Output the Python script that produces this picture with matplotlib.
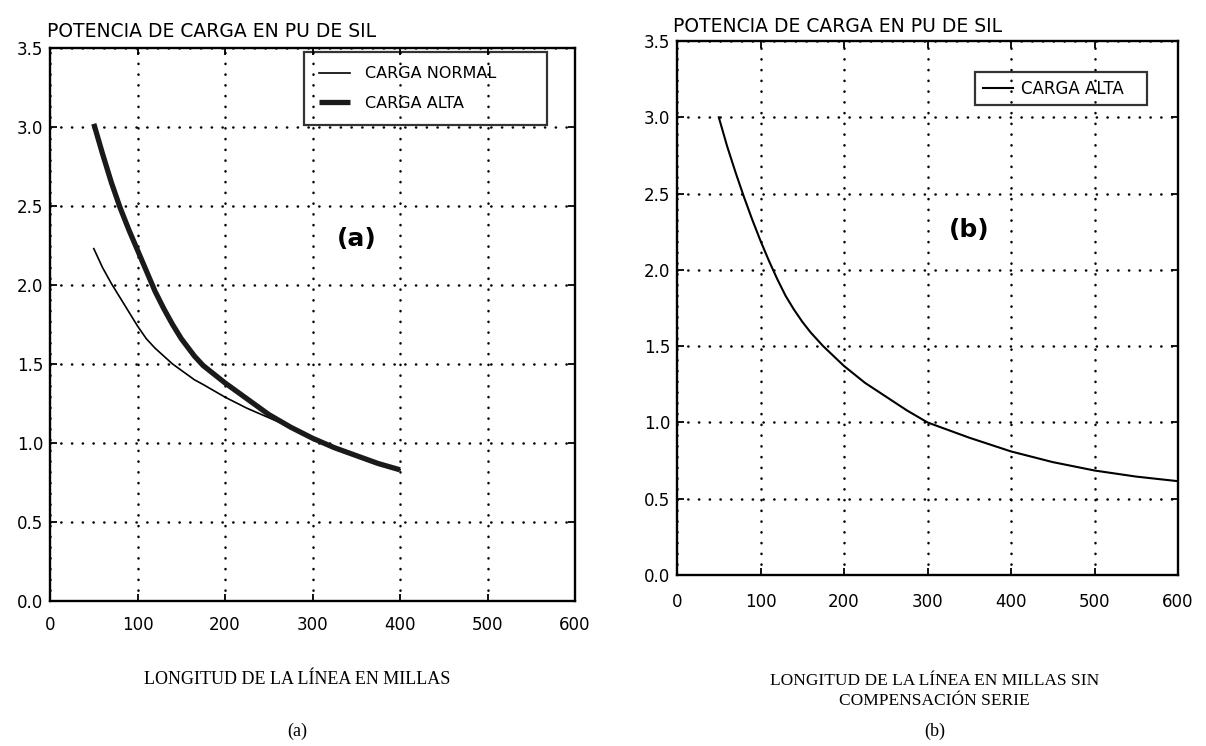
import numpy as np
import matplotlib.pyplot as plt

# Potencia de carga (pu de SIL) frente a longitud de la linea (millas)
millas_a = [50, 60, 70, 80, 90, 100, 110, 120, 130, 140, 150, 165, 175, 200,
            225, 250, 275, 300, 325, 350, 375, 400]
carga_alta_a = [3.02, 2.83, 2.65, 2.49, 2.35, 2.22, 2.09, 1.96, 1.85, 1.75, 1.66,
                1.55, 1.49, 1.38, 1.28, 1.18, 1.10, 1.03, 0.97, 0.92, 0.87, 0.83]
carga_normal_a = [2.23, 2.11, 2.01, 1.92, 1.83, 1.74, 1.66, 1.60, 1.55, 1.50, 1.46,
                  1.40, 1.37, 1.29, 1.22, 1.16, 1.10, 1.03, 0.97, 0.92, 0.87, 0.83]

millas_b = [50, 60, 70, 80, 90, 100, 110, 120, 130, 140, 150, 160, 175, 200,
            225, 250, 275, 300, 350, 400, 450, 500, 550, 600]
carga_alta_b = [3.00, 2.81, 2.64, 2.48, 2.33, 2.19, 2.06, 1.94, 1.83, 1.74, 1.66,
                1.59, 1.50, 1.37, 1.26, 1.17, 1.08, 1.00, 0.90, 0.81, 0.74, 0.685,
                0.645, 0.615]

ticks_x = [0, 100, 200, 300, 400, 500, 600]
ticks_y = [0.0, 0.5, 1.0, 1.5, 2.0, 2.5, 3.0, 3.5]

etiqueta_y = "POTENCIA DE CARGA EN PU DE SIL"
pie_a = "LONGITUD DE LA LÍNEA EN MILLAS"
pie_b = "LONGITUD DE LA LÍNEA EN MILLAS SIN\nCOMPENSACIÓN SERIE"

plt.rcParams['font.family'] = 'DejaVu Sans'


def preparar_ejes(ax, pad_x):
    ax.set_xlim(0, 600)
    ax.set_ylim(0, 3.5)
    ax.set_xticks(ticks_x)
    ax.set_yticks(ticks_y)
    ax.set_xticklabels([str(t) for t in ticks_x])
    ax.set_yticklabels([f"{t:.1f}" for t in ticks_y])
    ax.tick_params(direction='in', length=5, width=1.3, top=True, right=True,
                   labelsize=12, colors='black')
    ax.tick_params(axis='x', pad=pad_x)
    ax.tick_params(axis='y', pad=5)
    for s in ax.spines.values():
        s.set_linewidth(1.7)
    # rejilla punteada
    ax.grid(True, color='black', linestyle=(0, (0.1, 4.2)), linewidth=1.8,
            dash_capstyle='round')


fig = plt.figure(figsize=(12.06, 7.46), dpi=100)

# Panel (a): carga normal y carga alta
ax1 = fig.add_axes([0.0415, 0.1944, 0.4353, 0.7413])
preparar_ejes(ax1, 11)
ax1.plot(millas_a, carga_normal_a, color='black', lw=1.2, label='CARGA NORMAL')
ax1.plot(millas_a, carga_alta_a, color='#1a1a1a', lw=3.8, label='CARGA ALTA',
         solid_capstyle='butt')
ax1.annotate(etiqueta_y, xy=(0, 1), xycoords='axes fraction', xytext=(-2, 8),
             textcoords='offset points', ha='left', va='baseline', fontsize=13.5)
ax1.text(350, 2.29, '(a)', fontsize=18, fontweight='bold', ha='center', va='center')
leg1 = ax1.legend(loc='upper left', bbox_to_anchor=(0.484, 0.85, 0.463, 0.143),
                  mode='expand', borderaxespad=0, fontsize=11.5, borderpad=0.9,
                  labelspacing=0.9, handlelength=2.0, handletextpad=0.9,
                  fancybox=False)
leg1.get_frame().set_facecolor('none')
leg1.get_frame().set_edgecolor('black')
leg1.get_frame().set_linewidth(1.6)

# Panel (b): carga alta sin compensacion serie
ax2 = fig.add_axes([0.5614, 0.2292, 0.4154, 0.7158])
preparar_ejes(ax2, 13)
ax2.plot(millas_b, carga_alta_b, color='black', lw=1.5, label='CARGA ALTA')
ax2.annotate(etiqueta_y, xy=(0, 1), xycoords='axes fraction', xytext=(-3, 6.5),
             textcoords='offset points', ha='left', va='baseline', fontsize=13.5)
ax2.text(350, 2.26, '(b)', fontsize=18, fontweight='bold', ha='center', va='center')
leg2 = ax2.legend(loc='upper left', bbox_to_anchor=(0.595, 0.80, 0.343, 0.142),
                  mode='expand', borderaxespad=0, fontsize=12, borderpad=0.45,
                  handlelength=1.8, handletextpad=0.5, fancybox=False)
leg2.get_frame().set_facecolor('none')
leg2.get_frame().set_edgecolor('black')
leg2.get_frame().set_linewidth(1.6)

# Pies de figura
fig.text(0.2463, 0.0898, pie_a, family='Liberation Serif', fontsize=13,
         ha='center', va='center')
fig.text(0.775, 0.0737, pie_b, family='Liberation Serif', fontsize=12.5,
         ha='center', va='center', linespacing=1.3, multialignment='center')
fig.text(0.2463, 0.0201, '(a)', family='Liberation Serif', fontsize=13,
         ha='center', va='center')
fig.text(0.775, 0.0201, '(b)', family='Liberation Serif', fontsize=13,
         ha='center', va='center')

plt.savefig('out.png', dpi=100)
